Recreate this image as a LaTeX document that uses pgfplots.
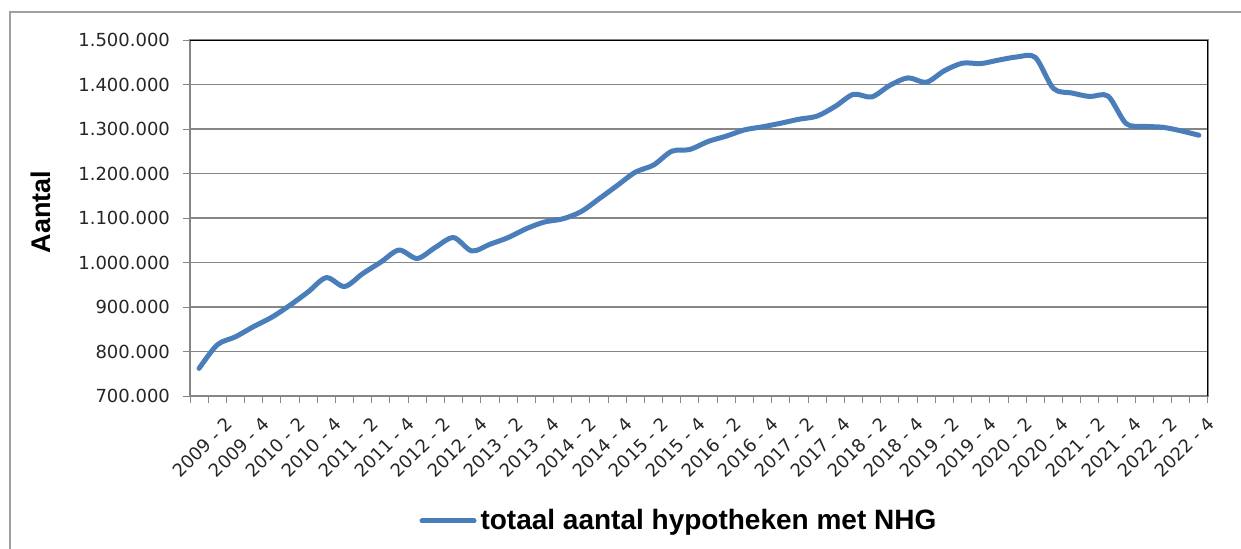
\documentclass[border=0pt]{standalone}
\usepackage{pgfplots}
\pgfplotsset{compat=1.18}
\usepackage{fontspec}
\setmainfont{DejaVu Sans}
\newfontfamily\lsans{Liberation Sans}
\definecolor{lineblue}{RGB}{74,126,187}
\definecolor{gridgray}{RGB}{134,134,134}
\definecolor{framegray}{RGB}{160,160,160}
\begin{document}
\begin{tikzpicture}
\path[use as bounding box] (0,0) rectangle (620.5bp,274.5bp);
\draw[framegray, line width=0.6bp] (5bp,0) -- (5bp,268.5bp) -- (620.5bp,268.5bp);
\begin{axis}[
  at={(95bp,76.5bp)}, anchor=south west,
  scale only axis, width=509bp, height=178bp,
  xmin=-0.5, xmax=55.5,
  ymin=700000, ymax=1500000,
  scaled y ticks=false,
  axis line style={gridgray, line width=0.6bp},
  xtick pos=bottom, ytick pos=left,
  ytick={700000,800000,900000,1000000,1100000,1200000,1300000,1400000,1500000},
  yticklabels={700.000,800.000,900.000,1.000.000,1.100.000,1.200.000,1.300.000,1.400.000,1.500.000},
  yticklabel style={font=\fontsize{9bp}{10bp}\selectfont, text=black!85, xshift=-3bp},
  ymajorgrids,
  grid style={gridgray, line width=0.6bp},
  tick align=outside,
  major tick length=3.5bp,
  tick style={gridgray, line width=0.5bp},
  xtick={-0.5,0.5,...,55.5},
  xticklabels={},
  extra x ticks={1,3,...,55},
  extra x tick labels={2009 - 2,2009 - 4,2010 - 2,2010 - 4,2011 - 2,2011 - 4,2012 - 2,2012 - 4,2013 - 2,2013 - 4,2014 - 2,2014 - 4,2015 - 2,2015 - 4,2016 - 2,2016 - 4,2017 - 2,2017 - 4,2018 - 2,2018 - 4,2019 - 2,2019 - 4,2020 - 2,2020 - 4,2021 - 2,2021 - 4,2022 - 2,2022 - 4},
  extra x tick style={major tick length=0pt, xmajorgrids=false,
    tick label style={rotate=45, anchor=north east, font=\fontsize{9bp}{10bp}\selectfont, text=black!85, yshift=-6bp, xshift=-1bp}},
  ylabel={\lsans\bfseries Aantal},
  every axis y label/.style={at={(axis description cs:-0.1464,0.517)}, rotate=90, anchor=center, font=\fontsize{13.5bp}{15bp}\selectfont},
  legend style={at={(axis description cs:0.4813,-0.351)}, anchor=center, draw=none, fill=none,
    font=\lsans\bfseries\fontsize{14bp}{16bp}\selectfont, inner sep=0pt, row sep=0pt},
  legend image code/.code={\draw[line width=2.5bp, line cap=round] (0bp,0bp) -- (26bp,0bp);},
  legend cell align=left,
]
\draw[black, line width=0.6bp] (rel axis cs:0,1) -- (rel axis cs:1,1) -- (rel axis cs:1,0);
\addplot[lineblue, line width=2.5bp, smooth, tension=0.5, line cap=round, line join=round] table[x=i, y=v] {
i v
0 762000
1 815000
2 833000
3 856000
4 877000
5 904000
6 934000
7 966000
8 946000
9 975000
10 1001000
11 1028000
12 1009000
13 1034000
14 1056000
15 1026000
16 1041000
17 1056000
18 1076000
19 1091000
20 1098000
21 1114000
22 1143000
23 1173000
24 1203000
25 1219000
26 1250000
27 1254000
28 1272000
29 1284000
30 1298000
31 1305000
32 1313000
33 1322000
34 1329000
35 1351000
36 1378000
37 1372000
38 1398000
39 1415000
40 1405000
41 1431000
42 1448000
43 1447000
44 1455000
45 1462000
46 1461000
47 1391000
48 1381000
49 1373000
50 1374000
51 1312000
52 1306000
53 1304000
54 1296000
55 1286000
};
\addlegendentry{totaal aantal hypotheken met NHG}
\end{axis}
\end{tikzpicture}
\end{document}
